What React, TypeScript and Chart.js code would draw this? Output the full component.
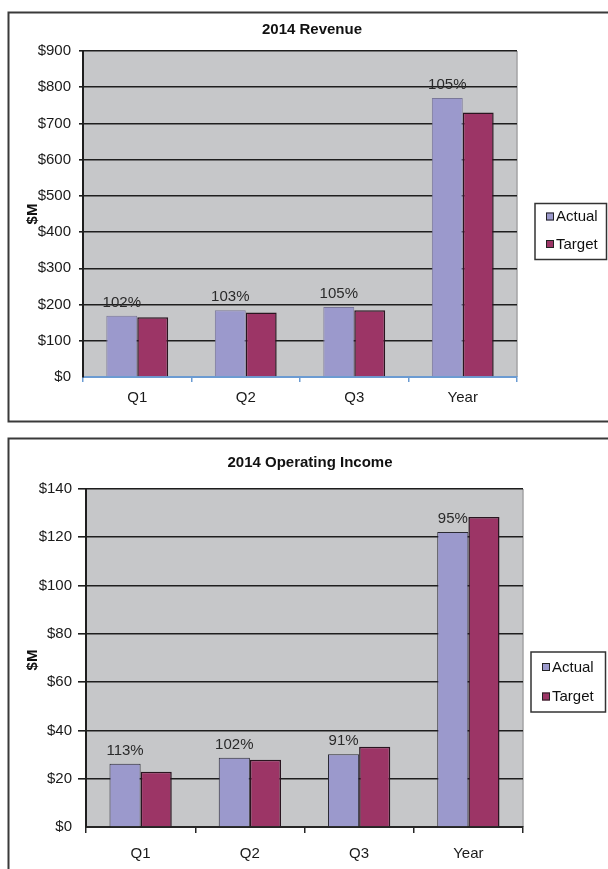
import React, { useEffect, useRef } from 'react';
import { Chart, registerables } from 'chart.js';

Chart.register(...registerables);

// ---- data ----
const categories = ['Q1', 'Q2', 'Q3', 'Year'];
const seriesNames = ['Actual', 'Target'];

const revenueTitle = '2014 Revenue';
const revenueActual = [169, 184, 193, 770];
const revenueTarget = [165, 178, 184, 730];
const revenuePct = ['102%', '103%', '105%', '105%'];
const revenueAxis = [0, 900, 100]; // min, max, step

const incomeTitle = '2014 Operating Income';
const incomeActual = [26.2, 28.7, 30.1, 122.2];
const incomeTarget = [22.9, 27.9, 33.2, 128.4];
const incomePct = ['113%', '102%', '91%', '95%'];
const incomeAxis = [0, 140, 20];

const yAxisTitle = '$M';

const FONT = "'Liberation Sans', Arial, Helvetica, sans-serif";
const ACTUAL_FILL = '#9b99cc';
const TARGET_FILL = '#9c3566';

type Cfg = {
  title: string;
  actual: number[];
  target: number[];
  pct: string[];
  axis: number[];
  height: number;
  padding: { left: number; top: number; right: number; bottom: number };
  frame: { x: number; y: number; w: number; h: number };
  titlePos: { x: number; y: number };
  yTitlePos: { x: number; y: number };
  legend: { x: number; y: number; w: number; h: number; mx: number; rows: number[] };
  xColor: string;
  xTickLen: number;
  xPad: number;
  yTickLen: number;
  yPad: number;
  actualBorder: string;
};

function makeDecor(cfg: Cfg) {
  return {
    id: 'decor',
    beforeDraw(chart: any) {
      const { ctx, chartArea: a } = chart;
      ctx.save();
      ctx.fillStyle = '#c6c7c9';
      ctx.fillRect(a.left, a.top, a.right - a.left, a.bottom - a.top);
      ctx.strokeStyle = '#a3a3a5';
      ctx.lineWidth = 1.5;
      ctx.beginPath();
      ctx.moveTo(a.right, a.top);
      ctx.lineTo(a.right, a.bottom);
      ctx.stroke();
      ctx.restore();
    },
    afterDatasetsDraw(chart: any) {
      const { ctx } = chart;
      const meta = chart.getDatasetMeta(0);
      ctx.save();
      ctx.font = `15px ${FONT}`;
      ctx.fillStyle = '#2a2a2a';
      ctx.textAlign = 'center';
      ctx.textBaseline = 'alphabetic';
      meta.data.forEach((el: any, i: number) => {
        ctx.fillText(cfg.pct[i], el.x, el.y - 9);
      });
      ctx.restore();
    },
    afterDraw(chart: any) {
      const { ctx } = chart;
      ctx.save();
      // frame
      ctx.strokeStyle = '#3a3a3a';
      ctx.lineWidth = 2;
      ctx.strokeRect(cfg.frame.x, cfg.frame.y, cfg.frame.w, cfg.frame.h);
      // title
      ctx.fillStyle = '#111';
      ctx.font = `bold 15px ${FONT}`;
      ctx.textAlign = 'center';
      ctx.textBaseline = 'middle';
      ctx.fillText(cfg.title, cfg.titlePos.x, cfg.titlePos.y);
      // y axis title
      ctx.save();
      ctx.translate(cfg.yTitlePos.x, cfg.yTitlePos.y);
      ctx.rotate(-Math.PI / 2);
      ctx.font = `bold 15px ${FONT}`;
      ctx.fillText(yAxisTitle, 0, 0);
      ctx.restore();
      // legend
      const L = cfg.legend;
      ctx.strokeStyle = '#333';
      ctx.lineWidth = 1.5;
      ctx.strokeRect(L.x, L.y, L.w, L.h);
      ctx.font = `15px ${FONT}`;
      ctx.textAlign = 'left';
      ctx.textBaseline = 'middle';
      chart.data.datasets.forEach((ds: any, i: number) => {
        const cy = L.rows[i];
        ctx.fillStyle = ds.backgroundColor;
        ctx.fillRect(L.mx, cy - 4, 8, 8);
        ctx.strokeStyle = '#222';
        ctx.lineWidth = 1;
        ctx.strokeRect(L.mx + 0.5, cy - 3.5, 7, 7);
        ctx.fillStyle = '#111';
        ctx.fillText(ds.label, L.mx + 10, cy + 0.5);
      });
      ctx.restore();
    },
  };
}

function buildChart(canvas: HTMLCanvasElement, cfg: Cfg) {
  const tickFont = { family: FONT, size: 15 };
  return new Chart(canvas, {
    type: 'bar',
    data: {
      labels: categories,
      datasets: [
        {
          label: seriesNames[0],
          data: cfg.actual,
          backgroundColor: ACTUAL_FILL,
          borderColor: cfg.actualBorder,
          borderWidth: 1,
          categoryPercentage: 0.57,
          barPercentage: 1,
        },
        {
          label: seriesNames[1],
          data: cfg.target,
          backgroundColor: TARGET_FILL,
          borderColor: '#2a1520',
          borderWidth: 1.5,
          categoryPercentage: 0.57,
          barPercentage: 1,
        },
      ],
    },
    options: {
      responsive: false,
      animation: false,
      layout: { padding: cfg.padding },
      plugins: {
        legend: { display: false },
        title: { display: false },
        tooltip: { enabled: false },
      },
      scales: {
        x: {
          grid: {
            offset: true,
            drawOnChartArea: false,
            drawTicks: true,
            tickLength: cfg.xTickLen,
            color: cfg.xColor,
            lineWidth: 1.5,
          },
          border: { color: cfg.xColor, width: 2 },
          ticks: { font: tickFont, color: '#1a1a1a', padding: cfg.xPad },
          afterFit(s: any) {
            s.height = 40;
          },
        },
        y: {
          min: cfg.axis[0],
          max: cfg.axis[1],
          ticks: {
            stepSize: cfg.axis[2],
            callback: (v: any) => '$' + v,
            font: tickFont,
            color: '#1a1a1a',
            padding: cfg.yPad,
          },
          grid: {
            color: (c: any) => (c.tick && c.tick.value === 0 ? 'rgba(0,0,0,0)' : '#1e1e1e'),
            lineWidth: 1.6,
            tickLength: cfg.yTickLen,
          },
          border: { color: '#1e1e1e', width: 2 },
          afterFit(s: any) {
            s.width = 50;
          },
        },
      },
    },
    plugins: [makeDecor(cfg)],
  } as any);
}

const revenueCfg: Cfg = {
  title: revenueTitle,
  actual: revenueActual,
  target: revenueTarget,
  pct: revenuePct,
  axis: revenueAxis,
  height: 430,
  padding: { left: 33, top: 51, right: 91, bottom: 13 },
  frame: { x: 8.5, y: 12.5, w: 620, h: 409 },
  titlePos: { x: 312, y: 30 },
  yTitlePos: { x: 33, y: 214 },
  legend: { x: 535, y: 203.5, w: 71.5, h: 56, mx: 546, rows: [216.5, 244] },
  xColor: '#6b9bd2',
  xTickLen: 5,
  xPad: 7,
  yTickLen: 4,
  yPad: 8,
  actualBorder: '#7a7899',
};

const incomeCfg: Cfg = {
  title: incomeTitle,
  actual: incomeActual,
  target: incomeTarget,
  pct: incomePct,
  axis: incomeAxis,
  height: 439,
  padding: { left: 36, top: 59, right: 85, bottom: 2 },
  frame: { x: 8.5, y: 8.5, w: 620, h: 460 },
  titlePos: { x: 310, y: 33 },
  yTitlePos: { x: 33, y: 230 },
  legend: { x: 531, y: 222, w: 74.5, h: 60, mx: 542, rows: [237, 266.5] },
  xColor: '#262626',
  xTickLen: 6,
  xPad: 12,
  yTickLen: 8,
  yPad: 6,
  actualBorder: '#2a2a33',
};

function ChartCanvas({ cfg, top }: { cfg: Cfg; top: number }) {
  const ref = useRef<HTMLCanvasElement | null>(null);
  useEffect(() => {
    if (!ref.current) return;
    const chart = buildChart(ref.current, cfg);
    return () => chart.destroy();
  }, [cfg]);
  return (
    <canvas
      ref={ref}
      width={608}
      height={cfg.height}
      style={{ position: 'absolute', left: 0, top, width: 608, height: cfg.height, display: 'block' }}
    />
  );
}

export default function App() {
  return (
    <div
      style={{
        position: 'fixed',
        left: 0,
        top: 0,
        width: 608,
        height: 869,
        overflow: 'hidden',
        background: '#fff',
      }}
    >
      <ChartCanvas cfg={revenueCfg} top={0} />
      <ChartCanvas cfg={incomeCfg} top={430} />
    </div>
  );
}
